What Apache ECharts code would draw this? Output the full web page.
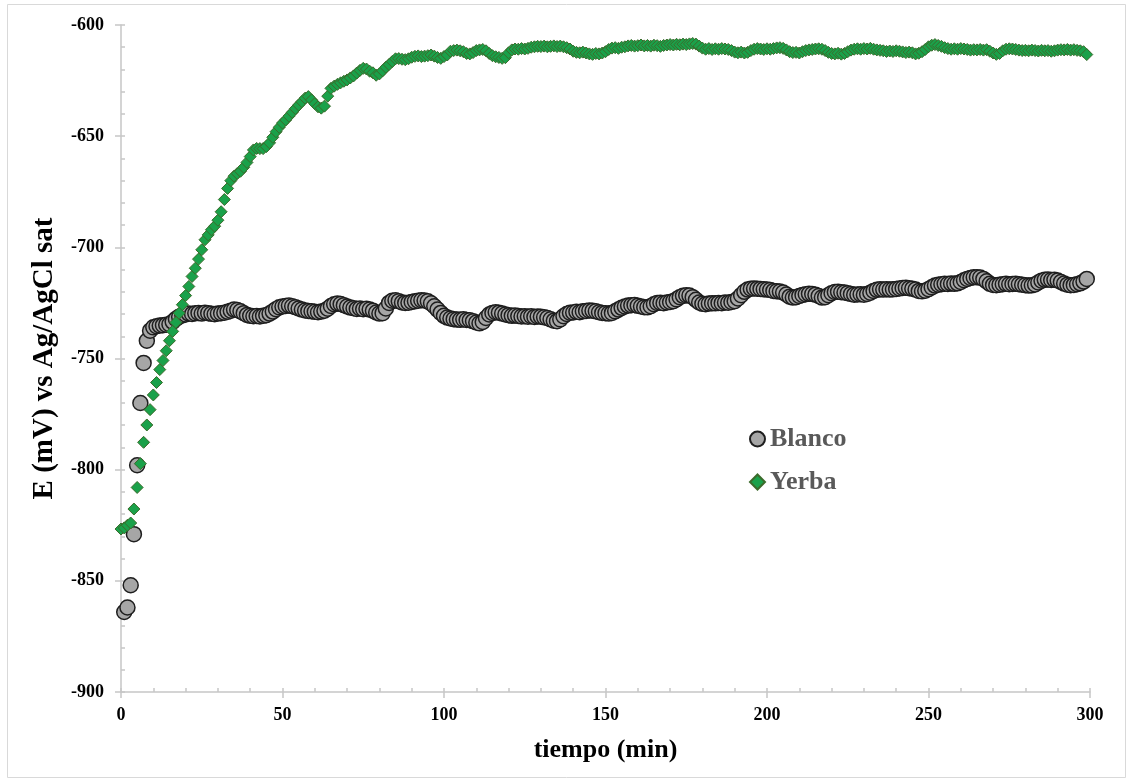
<!DOCTYPE html>
<html>
<head>
<meta charset="utf-8">
<script src="https://cdn.jsdelivr.net/npm/echarts@6/dist/echarts.min.js"></script>
<style>
html,body{margin:0;padding:0;background:#fff;}
#chart{width:1133px;height:783px;}
</style>
</head>
<body>
<div id="chart"></div>
<script>
// ---- data ----
const xTicks = [0, 50, 100, 150, 200, 250, 300];
const yTicks = [-900, -850, -800, -750, -700, -650, -600];

const blancoStart = 1; // minutes
const blancoE = [
-864,-862,-852,-829,-798,-770,-752,-742,-737.5,-736,
-735.5,-735.2,-735,-734.8,-734.6,-733.5,-732.2,-731.2,-730.6,-730.2,
-729.8,-730,-729.7,-729.5,-729.8,-729.4,-729.6,-729.9,-730.1,-729.8,
-729.6,-729.4,-729.0,-728.5,-728.0,-728.2,-728.8,-729.6,-730.4,-730.8,
-731.0,-730.9,-731.1,-730.8,-730.5,-729.8,-728.9,-727.8,-727.0,-726.6,
-726.4,-726.2,-726.5,-726.9,-727.5,-728.0,-728.4,-728.6,-728.8,-729.0,
-729.2,-728.9,-728.5,-727.6,-726.4,-725.6,-725.3,-725.5,-726.0,-726.6,
-727.1,-727.4,-727.7,-727.5,-727.8,-727.6,-728.0,-728.5,-729.3,-729.8,
-729.6,-727.5,-725.0,-724.0,-723.8,-724.2,-724.8,-725.0,-724.9,-724.6,
-724.3,-724.0,-723.8,-723.9,-724.3,-725.2,-726.5,-728.0,-729.5,-730.8,
-731.6,-732.0,-732.3,-732.5,-732.6,-732.4,-732.7,-732.8,-733.2,-733.8,
-734.2,-733.6,-731.8,-730.2,-729.5,-729.2,-729.4,-729.8,-730.2,-730.5,
-730.8,-730.7,-730.9,-731.1,-731.0,-731.2,-731.0,-731.3,-731.1,-731.2,
-731.5,-731.8,-732.4,-733.0,-733.2,-732.4,-731.0,-730.0,-729.4,-729.3,
-729.0,-729.2,-728.8,-728.6,-728.4,-728.5,-728.8,-729.2,-729.5,-729.6,
-729.8,-729.5,-728.8,-728.0,-727.2,-726.6,-726.2,-726.0,-725.9,-726.3,
-726.6,-726.9,-727.0,-726.5,-725.6,-725.0,-724.9,-725.1,-724.8,-724.6,
-724.2,-723.4,-722.4,-721.8,-721.5,-721.7,-722.4,-723.6,-724.8,-725.4,
-725.6,-725.3,-725.1,-725.2,-725.0,-725.1,-724.8,-724.9,-724.6,-724.2,
-723.0,-721.5,-720.0,-719.0,-718.6,-718.5,-718.6,-718.7,-718.9,-719.0,
-719.2,-719.6,-719.8,-719.9,-720.3,-721.2,-722.2,-722.6,-722.4,-721.9,
-721.4,-721.1,-720.9,-721.0,-721.3,-721.9,-722.6,-722.4,-721.5,-720.6,
-720.1,-720.0,-720.2,-720.3,-720.6,-721.0,-721.3,-721.2,-721.1,-721.3,
-721.0,-720.4,-719.6,-719.1,-718.9,-719.0,-718.8,-719.0,-718.9,-718.7,
-718.5,-718.3,-718.2,-718.4,-718.6,-719.0,-719.6,-719.8,-719.5,-718.8,
-718.0,-717.2,-716.8,-716.6,-716.4,-716.5,-716.3,-716.4,-716.2,-715.6,
-714.8,-714.2,-713.8,-713.5,-713.4,-713.6,-714.2,-715.3,-716.4,-716.9,
-717.0,-716.8,-716.6,-716.4,-716.6,-716.5,-716.4,-716.6,-716.8,-717.0,
-717.2,-717.1,-716.7,-715.8,-715.0,-714.6,-714.5,-714.7,-714.6,-714.9,
-715.6,-716.3,-716.8,-717.0,-716.9,-716.6,-716.2,-715.4,-714.2
];

const yerbaStart = 0; // minutes
const yerbaE = [
-826.7,-826.2,-825.0,-824.0,-817.7,-808.0,-797.3,-787.7,-779.9,-773.0,
-766.4,-760.8,-755.0,-750.9,-746.5,-742.0,-737.8,-733.8,-729.6,-725.8,
-721.7,-717.6,-713.1,-709.4,-705.3,-701.1,-696.6,-694.4,-692.1,-690.5,
-687.8,-684.0,-678.5,-673.5,-670.0,-668.0,-666.8,-665.8,-664.0,-661.8,
-659.2,-656.2,-655.5,-655.6,-655.6,-654.7,-653.0,-650.5,-648.0,-646.0,
-644.1,-642.7,-641.0,-639.3,-637.6,-636.0,-634.5,-632.9,-632.2,-633.7,
-635.4,-636.8,-637.4,-636.5,-632.0,-628.5,-627.5,-626.7,-626.0,-625.3,
-624.7,-623.8,-622.9,-621.6,-620.4,-619.5,-619.8,-620.8,-621.5,-622.6,
-622.0,-620.6,-619.0,-617.8,-616.4,-615.2,-615.1,-615.4,-615.6,-615.2,
-614.5,-614.1,-613.9,-614.2,-614.0,-613.8,-613.5,-614.0,-614.6,-615.0,
-614.2,-613.5,-611.8,-611.5,-611.3,-611.6,-612.0,-612.8,-613.0,-612.4,
-611.5,-611.2,-611.0,-611.6,-612.8,-613.8,-614.3,-614.6,-615.0,-614.7,
-612.5,-611.2,-610.8,-610.9,-610.6,-610.8,-610.5,-610.0,-609.8,-609.6,
-609.7,-609.5,-609.8,-609.6,-609.4,-609.7,-609.5,-609.8,-610.2,-610.8,
-611.8,-612.3,-612.5,-612.2,-612.6,-613.0,-613.2,-612.8,-613.0,-612.6,
-612.0,-611.0,-610.4,-610.2,-610.5,-610.0,-609.8,-609.4,-609.2,-609.5,
-609.3,-609.0,-609.4,-609.2,-609.5,-609.1,-609.3,-609.6,-609.2,-609.0,
-608.8,-609.0,-608.7,-608.9,-608.6,-608.8,-608.5,-608.3,-608.6,-609.5,
-610.4,-610.9,-610.6,-611.0,-610.7,-610.9,-610.6,-610.8,-611.0,-611.5,
-612.2,-612.5,-612.2,-612.6,-612.3,-611.5,-610.9,-610.6,-610.8,-611.0,
-610.7,-610.9,-610.6,-610.3,-610.2,-610.5,-611.2,-612.0,-612.4,-612.3,
-612.6,-612.0,-611.5,-611.2,-611.0,-610.8,-610.7,-610.9,-611.5,-612.3,
-612.8,-613.0,-612.7,-613.1,-612.8,-612.0,-611.3,-610.9,-610.7,-610.9,
-610.6,-610.8,-610.5,-610.9,-611.2,-611.4,-611.6,-611.9,-611.7,-611.9,
-611.6,-611.8,-612.1,-612.4,-612.2,-612.5,-613.0,-612.7,-612.0,-611.0,
-609.8,-609.1,-608.8,-609.2,-609.6,-610.2,-610.6,-610.9,-610.7,-610.9,
-610.6,-610.8,-611.0,-611.3,-611.1,-611.2,-611.0,-611.3,-611.1,-611.8,
-612.6,-613.2,-612.8,-611.6,-610.9,-610.7,-610.8,-611.0,-611.3,-611.5,
-611.4,-611.6,-611.3,-611.5,-611.7,-611.4,-611.6,-611.5,-611.8,-611.6,
-611.3,-611.1,-611.2,-611.0,-611.3,-611.1,-611.4,-611.6,-612.0,-613.3
];

const seriesNames = ['Blanco', 'Yerba'];
const xTitle = 'tiempo (min)';
const yTitle = 'E (mV) vs Ag/AgCl sat';

// ---- chart ----
const FONT = '"Liberation Serif", "Times New Roman", serif';
const AXIS_COLOR = '#c6c6c6';
const toPairs = (start, arr) => arr.map((v, i) => [start + i, v]);

const gridRect = { left: 121, right: 43, top: 25, bottom: 91 };
const xMin = xTicks[0], xMax = xTicks[xTicks.length - 1];
const yMin = yTicks[0], yMax = yTicks[yTicks.length - 1];

const chart = echarts.init(document.getElementById('chart'), null, { renderer: 'canvas' });
chart.setOption({
  animation: false,
  backgroundColor: '#ffffff',
  graphic: [{
    type: 'rect', shape: { x: 7.5, y: 4.5, width: 1118, height: 773 },
    style: { fill: 'none', stroke: '#d9d9d9', lineWidth: 1 }, silent: true, z: -10
  }],
  grid: [
    Object.assign({}, gridRect),
    Object.assign({}, gridRect)
  ],
  legend: {
    orient: 'vertical',
    left: 744, top: 421,
    itemGap: 17,
    itemWidth: 15, itemHeight: 15,
    textStyle: { fontFamily: FONT, fontWeight: 'bold', fontSize: 26, color: '#595959' },
    data: seriesNames
  },
  xAxis: [{
    type: 'value', gridIndex: 0, min: xMin, max: xMax, interval: 50,
    name: xTitle, nameLocation: 'middle', nameGap: 45,
    nameTextStyle: { fontFamily: FONT, fontWeight: 'bold', fontSize: 26, color: '#000' },
    axisLine: { show: true, lineStyle: { color: AXIS_COLOR, width: 1.5 } },
    axisTick: { show: true, inside: false, length: 6, lineStyle: { color: AXIS_COLOR, width: 1.5 } },
    axisLabel: { fontFamily: FONT, fontWeight: 'bold', fontSize: 18, color: '#000', margin: 14 },
    splitLine: { show: false }
  }, {
    type: 'value', gridIndex: 1, min: xMin, max: xMax, interval: 10,
    axisLine: { show: false },
    axisTick: { show: true, inside: true, length: 4, lineStyle: { color: AXIS_COLOR, width: 1.5 } },
    axisLabel: { show: false },
    splitLine: { show: false }
  }],
  yAxis: [{
    type: 'value', gridIndex: 0, min: yMin, max: yMax, interval: 50,
    name: yTitle, nameLocation: 'middle', nameGap: 62, nameRotate: 90,
    nameTextStyle: { fontFamily: FONT, fontWeight: 'bold', fontSize: 29, color: '#000' },
    axisLine: { show: true, lineStyle: { color: AXIS_COLOR, width: 1.5 } },
    axisTick: { show: true, inside: false, length: 6, lineStyle: { color: AXIS_COLOR, width: 1.5 } },
    axisLabel: { fontFamily: FONT, fontWeight: 'bold', fontSize: 18, color: '#000', margin: 17 },
    splitLine: { show: false }
  }, {
    type: 'value', gridIndex: 1, min: yMin, max: yMax, interval: 10,
    axisLine: { show: false },
    axisTick: { show: true, inside: true, length: 4, lineStyle: { color: AXIS_COLOR, width: 1.5 } },
    axisLabel: { show: false },
    splitLine: { show: false }
  }],
  series: [{
    name: seriesNames[0], type: 'scatter', xAxisIndex: 0, yAxisIndex: 0,
    symbol: 'circle', symbolSize: 15, z: 2,
    itemStyle: { color: '#a6a6a6', borderColor: '#1e1e1e', borderWidth: 1.5, opacity: 1 },
    data: toPairs(blancoStart, blancoE)
  }, {
    name: seriesNames[1], type: 'scatter', xAxisIndex: 0, yAxisIndex: 0,
    symbol: 'diamond', symbolSize: 12, z: 3,
    itemStyle: { color: '#1aa14a', borderColor: '#3b6b2b', borderWidth: 1, opacity: 1 },
    data: toPairs(yerbaStart, yerbaE)
  }]
});
</script>
</body>
</html>
